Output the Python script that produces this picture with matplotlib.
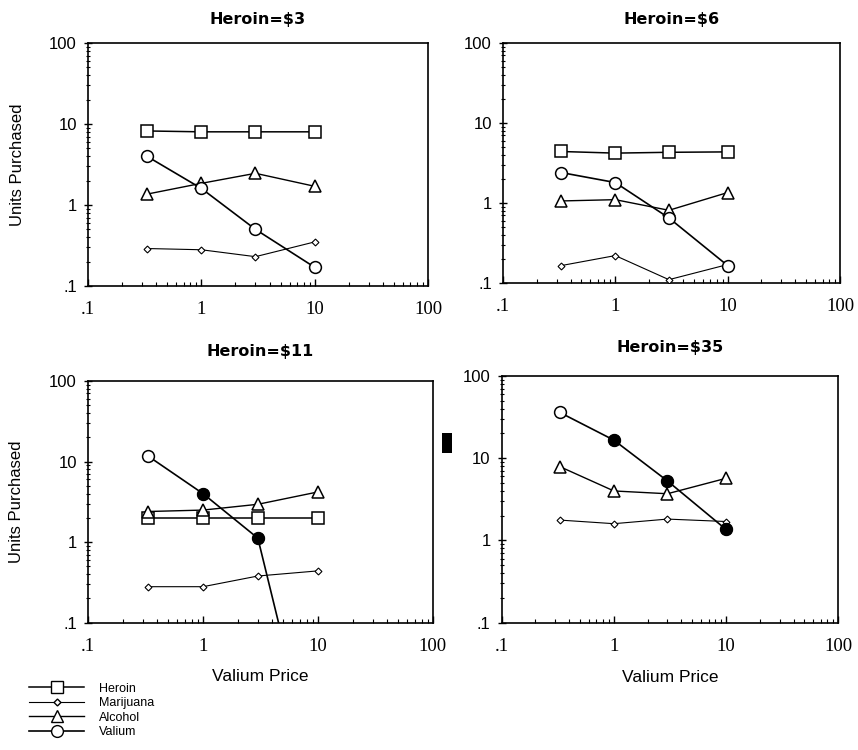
import matplotlib
matplotlib.use("Agg")
import matplotlib.pyplot as plt
from matplotlib.lines import Line2D
from matplotlib.patches import Rectangle
from matplotlib.ticker import FixedLocator, LogLocator, NullFormatter

# data (Valium price on x, units purchased on y)
valium_price = [0.33, 1, 3, 10]
titles = ["Heroin=$3", "Heroin=$6", "Heroin=$11", "Heroin=$35"]

heroin = [[8.2, 8.0, 8.0, 8.0],
          [4.4, 4.2, 4.3, 4.35],
          [2.0, 2.0, 2.0, 2.0],
          None]
marijuana = [[0.29, 0.28, 0.23, 0.35],
             [0.165, 0.22, 0.11, 0.17],
             [0.28, 0.28, 0.38, 0.44],
             [1.77, 1.6, 1.82, 1.7]]
alcohol = [[1.36, 1.85, 2.46, 1.7],
           [1.06, 1.1, 0.81, 1.35],
           [2.4, 2.5, 2.95, 4.2],
           [7.9, 4.0, 3.7, 5.7]]
valium = [[4.0, 1.6, 0.5, 0.17],
          [2.4, 1.8, 0.65, 0.165],
          [11.8, 4.0, 1.12, 0.001],
          [36, 16.6, 5.3, 1.36]]
# filled valium markers
valium_filled = [[False, False, False, False],
                 [False, False, False, False],
                 [False, True, True, False],
                 [False, True, True, True]]

tick_vals = [0.1, 1, 10, 100]
tick_labels = [".1", "1", "10", "100"]

fig = plt.figure(figsize=(8.58, 7.5), dpi=100)
rects = [[0.1026, 0.6187, 0.3963, 0.324],
         [0.5862, 0.6227, 0.3928, 0.320],
         [0.1026, 0.1697, 0.4020, 0.3223],
         [0.5847, 0.1697, 0.3923, 0.3290]]
pads = [14, 14, 18, 17]

for i, r in enumerate(rects):
    ax = fig.add_axes(r)
    x = valium_price
    if heroin[i] is not None:
        ax.plot(x, heroin[i], '-', color='black', lw=1.1, marker='s', ms=8,
                mfc='white', mec='black', mew=1.1, zorder=3)
    ax.plot(x, marijuana[i], '-', color='black', lw=0.8, marker='D', ms=3.5,
            mfc='white', mec='black', mew=0.8, zorder=3)
    ax.plot(x, alcohol[i], '-', color='black', lw=1.0, marker='^', ms=8,
            mfc='white', mec='black', mew=1.1, zorder=3)
    ax.plot(x, valium[i], '-', color='black', lw=1.2, marker='o', ms=8.5,
            mfc='white', mec='black', mew=1.1, zorder=4)
    fx = [xv for xv, f in zip(x, valium_filled[i]) if f]
    fy = [yv for yv, f in zip(valium[i], valium_filled[i]) if f]
    if fx:
        ax.plot(fx, fy, 'o', color='black', ms=8, zorder=5)

    ax.set_xscale('log')
    ax.set_yscale('log')
    ax.set_xlim(0.1, 100)
    ax.set_ylim(0.1, 100)
    ax.xaxis.set_major_locator(FixedLocator(tick_vals))
    ax.yaxis.set_major_locator(FixedLocator(tick_vals))
    ax.xaxis.set_minor_locator(LogLocator(base=10, subs=range(2, 10)))
    ax.yaxis.set_minor_locator(LogLocator(base=10, subs=range(2, 10)))
    ax.xaxis.set_minor_formatter(NullFormatter())
    ax.yaxis.set_minor_formatter(NullFormatter())
    ax.set_xticklabels(tick_labels, fontfamily='Liberation Serif', fontsize=13.5)
    ax.set_yticklabels(tick_labels, fontfamily='Liberation Sans', fontsize=12)
    ax.tick_params(axis='x', which='major', direction='in', length=5, width=1, pad=11)
    ax.tick_params(axis='x', which='minor', direction='in', length=3, width=0.8)
    ax.tick_params(axis='y', which='major', direction='inout', length=6, width=1, pad=5)
    ax.tick_params(axis='y', which='minor', direction='inout', length=3, width=0.8)
    for s in ax.spines.values():
        s.set_linewidth(1.2)

    ax.set_title(titles[i], fontfamily='DejaVu Sans', fontweight='bold',
                 fontsize=11.5, pad=pads[i])
    if i in (0, 2):
        ax.set_ylabel("Units Purchased", fontfamily='Liberation Sans', fontsize=12)
        ax.yaxis.set_label_coords(-0.185, 0.5)
    if i in (2, 3):
        ax.set_xlabel("Valium Price", fontfamily='Liberation Sans', fontsize=12.5)
        ax.xaxis.set_label_coords(0.5, -0.19)

# legend under the lower-left panel
handles = [
    Line2D([], [], color='black', lw=1.1, marker='s', ms=8, mfc='white', mec='black'),
    Line2D([], [], color='black', lw=0.8, marker='D', ms=3.5, mfc='white', mec='black'),
    Line2D([], [], color='black', lw=1.0, marker='^', ms=8, mfc='white', mec='black'),
    Line2D([], [], color='black', lw=1.2, marker='o', ms=8.5, mfc='white', mec='black'),
]
labels = ["Heroin", "Marijuana", "Alcohol", "Valium"]
fig.legend(handles, labels, loc='upper left', bbox_to_anchor=(0.027, 0.098),
           frameon=False, handlelength=4.4, handletextpad=1.2, labelspacing=0.2,
           borderpad=0, prop={'family': 'Liberation Sans', 'size': 9})

# dark scan smudge between the lower panels
fig.patches.append(Rectangle((0.515, 0.396), 0.012, 0.027, transform=fig.transFigure,
                             facecolor='black', edgecolor='none'))

fig.savefig("out.png", dpi=100)
